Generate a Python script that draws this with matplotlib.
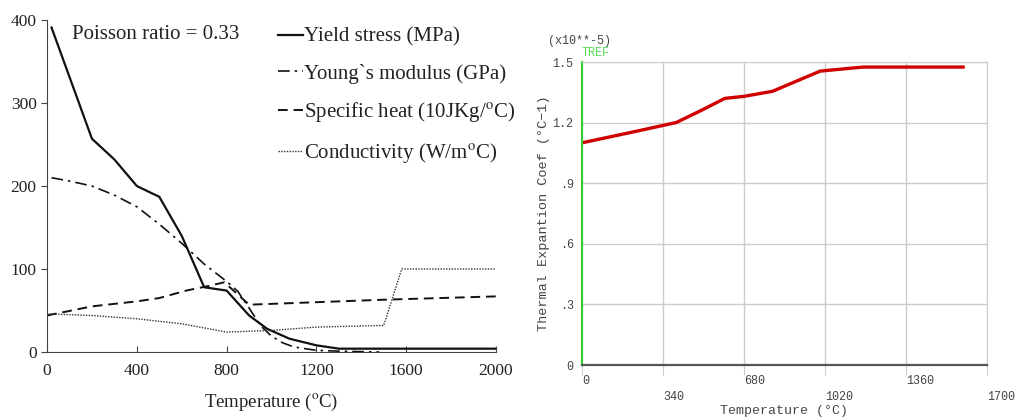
import matplotlib
matplotlib.use('Agg')
from matplotlib import pyplot as plt

# Left chart data (material properties vs temperature)
yield_T = [20, 200, 300, 400, 500, 600, 700, 800, 900, 980, 1080, 1200, 1300, 2000]
yield_v = [391, 257, 232, 200, 187, 140, 78, 74, 44, 28, 16, 8, 4, 4]

young_T = [20, 100, 200, 300, 400, 500, 600, 700, 800, 850, 900, 950, 1000, 1050, 1100, 1200, 1300, 1480]
young_v = [210, 206, 200, 189, 175, 154, 131, 106, 85, 73, 53, 32, 19, 11, 6, 2, 1, 0]

heat_T = [0, 200, 400, 500, 620, 710, 790, 900, 1000, 1200, 1500, 2000]
heat_v = [44, 55, 61, 65, 74, 79, 84, 57, 58, 60, 63, 67]

cond_T = [0, 200, 400, 600, 800, 1000, 1200, 1500, 1580, 2000]
cond_v = [46, 44, 40, 34, 24, 26, 30, 32, 100, 100]

# Right chart data (thermal expansion coefficient, x10^-5)
alpha_T = [0, 200, 395, 500, 600, 680, 800, 900, 1000, 1180, 1600]
alpha_v = [1.10, 1.15, 1.20, 1.26, 1.32, 1.33, 1.355, 1.405, 1.455, 1.475, 1.475]

x_ticks_left = [0, 400, 800, 1200, 1600, 2000]
y_ticks_left = [0, 100, 200, 300, 400]
x_ticks_right = [0, 340, 680, 1020, 1360, 1700]
x_labels_right = ['0', '\n340', '680', '\n1020', '1360', '\n1700']
y_ticks_right = [0, 0.3, 0.6, 0.9, 1.2, 1.5]
y_labels_right = ['0', '.3', '.6', '.9', '1.2', '1.5']

plt.rcParams['mathtext.fontset'] = 'stix'

fig = plt.figure(figsize=(10.16, 4.17), dpi=100)

# ---- left panel ----
serif = 'Liberation Serif'
ax = fig.add_axes([0.0463, 0.1559, 0.4419, 0.796])
ax.plot(yield_T, yield_v, color='#111111', lw=1.6, ls='-', label='Yield stress (MPa)')
ax.plot(young_T, young_v, color='#111111', lw=1.2, ls=(0, (7, 3, 1.5, 3)), label='Young`s modulus (GPa)')
ax.plot(heat_T, heat_v, color='#111111', lw=1.4, ls=(0, (5, 3)), label='Specific heat (10JKg/$^{\\rm o}$C)')
ax.plot(cond_T, cond_v, color='#333333', lw=1.0, ls=(0, (1, 1)), label='Conductivity (W/m$^{\\rm o}$C)')

ax.set_xlim(0, 2000)
ax.set_ylim(0, 400)
ax.set_xticks(x_ticks_left)
ax.set_yticks(y_ticks_left)
for s in ['top', 'right']:
    ax.spines[s].set_visible(False)
for s in ['left', 'bottom']:
    ax.spines[s].set_color('#444444')
ax.tick_params(axis='x', direction='in', length=4, color='#444444', pad=8)
ax.tick_params(axis='y', direction='out', length=4, color='#444444')
for lab in ax.get_xticklabels() + ax.get_yticklabels():
    lab.set_fontfamily(serif)
    lab.set_fontsize(12.5)
    lab.set_color('#222222')
ax.set_xlabel('Temperature ($^{\\rm o}$C)', fontfamily=serif, fontsize=13.5,
              color='#222222', labelpad=9)
ax.text(0.056, 0.955, 'Poisson ratio = 0.33', transform=ax.transAxes,
        fontfamily=serif, fontsize=15, va='center', color='#222222')
leg = ax.legend(loc='upper left', bbox_to_anchor=(0.514, 0.978), frameon=False,
                handlelength=1.2, handletextpad=0.05, labelspacing=0.8,
                borderpad=0, borderaxespad=0, prop={'family': serif, 'size': 15})
for t in leg.get_texts():
    t.set_color('#222222')

# ---- right panel ----
mono = 'Liberation Mono'
ax2 = fig.add_axes([0.5728, 0.1247, 0.3986, 0.7266])
ax2.plot(alpha_T, alpha_v, color='#d00000', lw=2.4)
ax2.set_xlim(0, 1700)
ax2.set_ylim(0, 1.5)
ax2.set_xticks(x_ticks_right)
ax2.set_xticklabels(x_labels_right)
ax2.set_yticks(y_ticks_right)
ax2.set_yticklabels(y_labels_right)
ax2.grid(True, color='#cccccc', lw=1.0)
ax2.spines['top'].set_color('#cccccc')
ax2.spines['right'].set_color('#cccccc')
ax2.spines['bottom'].set_color('#555555')
ax2.spines['bottom'].set_linewidth(1.6)
ax2.spines['left'].set_color('#33cc33')
ax2.spines['left'].set_linewidth(1.5)
ax2.tick_params(axis='x', direction='out', length=7, color='#cccccc', pad=0)
ax2.tick_params(axis='y', length=0, pad=6)
for lab in ax2.get_xticklabels() + ax2.get_yticklabels():
    lab.set_fontfamily(mono)
    lab.set_fontsize(8.5)
    lab.set_color('#444444')
for lab in ax2.get_xticklabels():
    lab.set_linespacing(1.5)
    lab.set_horizontalalignment('left')
ax2.set_xlabel('Temperature (°C)', fontfamily=mono, fontsize=9.5, color='#444444')
ax2.xaxis.set_label_coords(0.5, -0.133)
ax2.set_ylabel('Thermal Expantion Coef (°C\u22121)', fontfamily=mono, fontsize=9.7,
               color='#444444', labelpad=2)
ax2.text(-0.085, 1.07, '(x10**-5)', transform=ax2.transAxes, fontfamily=mono,
         fontsize=8.5, color='#444444', va='center')
ax2.text(0.0, 1.03, 'TREF', transform=ax2.transAxes, fontfamily=mono,
         fontsize=8.5, color='#55dd55', va='center')

fig.savefig('out.png', dpi=100)
